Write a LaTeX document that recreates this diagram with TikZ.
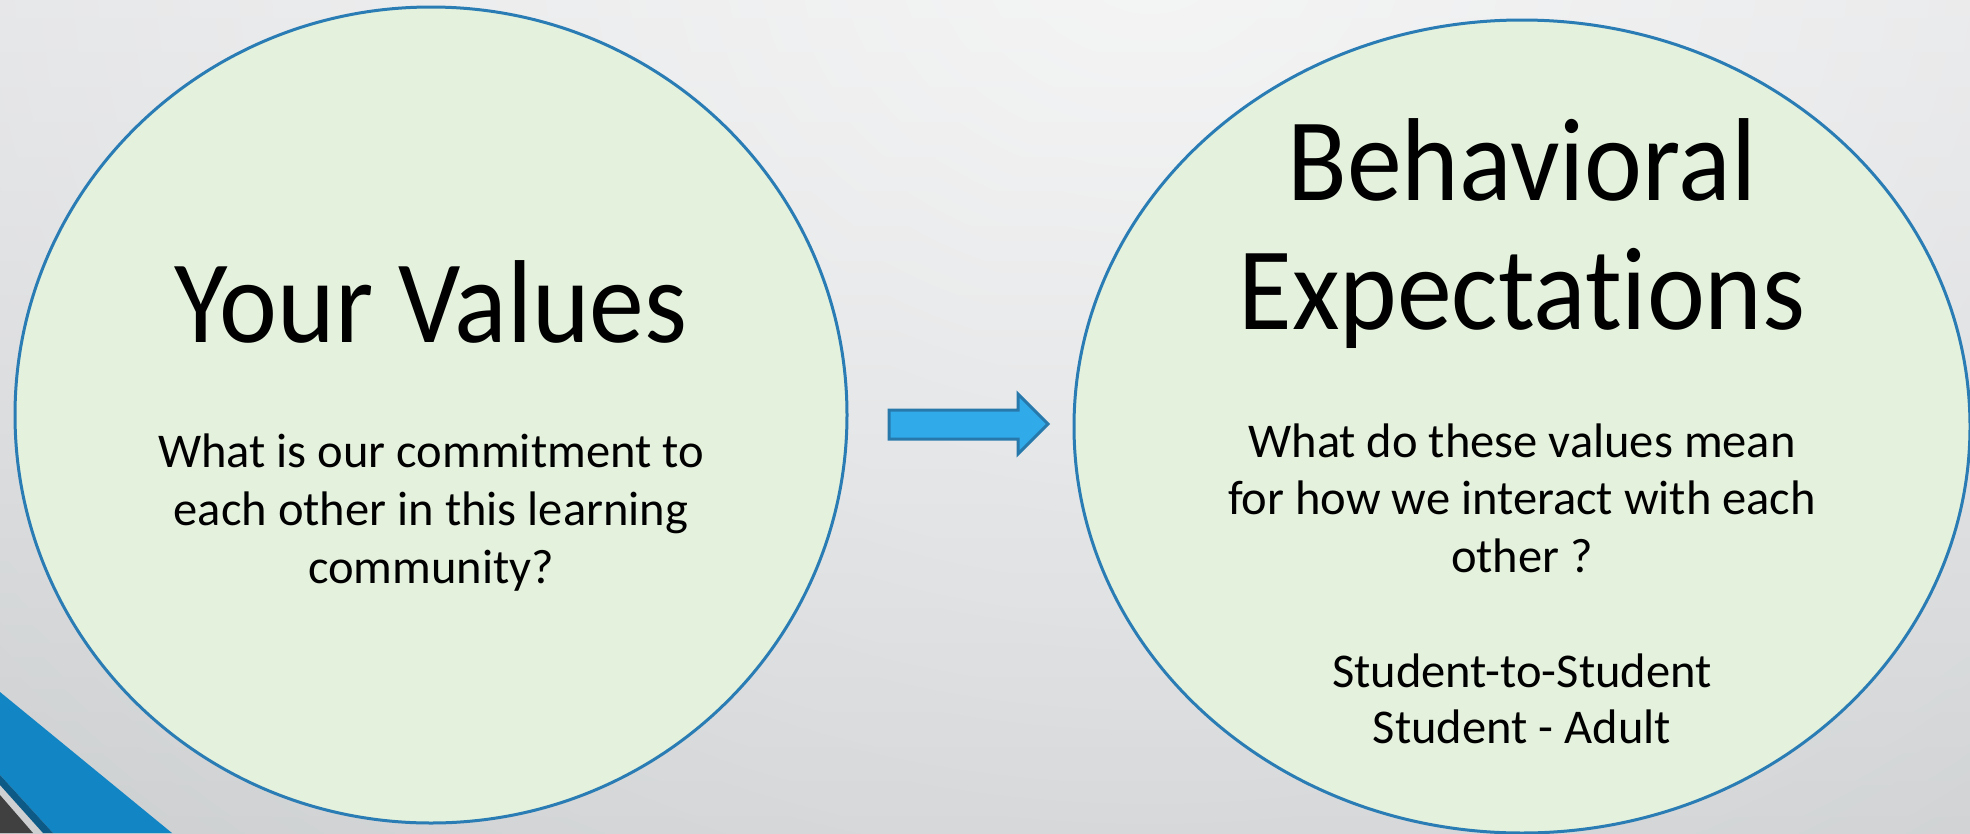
\documentclass[tikz,border=0pt]{standalone}
\usepackage{fontspec}
\setmainfont{Carlito}[Ligatures=NoCommon]
\newfontfamily\titlefont{Carlito}[Ligatures=NoCommon,FakeStretch=0.93]
\usetikzlibrary{shapes.geometric,fadings}
\definecolor{bgtop}{HTML}{DCDDDF}
\definecolor{bgbot}{HTML}{C2C5C7}
\definecolor{ellfill}{HTML}{E4F1DC}
\definecolor{ellline}{HTML}{2A7CB4}
\definecolor{arrfill}{HTML}{30AAE9}
\definecolor{arrline}{HTML}{2779AC}
\definecolor{bandblue}{HTML}{1285C5}
\definecolor{banddark}{HTML}{0E5A87}
\definecolor{bandgray}{HTML}{404040}
\tikzfading[name=glowfade, inner color=transparent!0, outer color=transparent!100]
\tikzset{
  bubble/.style={ellipse, draw=ellline, fill=ellfill, line width=3pt, inner sep=0pt},
  bigtitle/.style={font=\titlefont\fontsize{118}{130}\selectfont, anchor=base, inner sep=0pt},
  smalltxt/.style={font=\fontsize{48.5}{57.5}\selectfont, anchor=base, inner sep=0pt},
  blockarrow/.style={fill=arrfill, draw=arrline, line width=3pt, line join=miter}
}
\begin{document}
\begin{tikzpicture}[x=1pt,y=-1pt]
\useasboundingbox (0,0) rectangle (1970,833);
% background
\shade[top color=bgtop, bottom color=bgbot] (0,0) rectangle (1970,833);
\begin{scope}
\clip (0,0) rectangle (1970,833);
\fill[white, path fading=glowfade, fill opacity=0.7] (1150,-50) ellipse (2100 and 1700);
\end{scope}
% bottom-left band
\fill[bandblue] (0,692) -- (172,833) -- (53,833) -- (0,775) -- cycle;
\fill[banddark] (0,775) -- (53,833) -- (43,833) -- (0,785) -- cycle;
\fill[bandgray] (0,795) -- (33,833) -- (0,833) -- cycle;
% ellipses
\node[bubble, minimum width=832pt, minimum height=816pt] (L) at (431,415) {};
\node[bubble, minimum width=896pt, minimum height=813pt] (R) at (1522,426.5) {};
% left texts
\node[bigtitle] (lt) at (431,342) {Your Values};
\node[smalltxt] (l1) at (431,467) {What is our commitment to};
\node[smalltxt] (l2) at (431,525) {each other in this learning};
\node[smalltxt] (l3) at (431,583) {community?};
% right texts
\node[bigtitle] (rt1) at (1522,200) {Behavioral};
\node[bigtitle] (rt2) at (1522,329) {Expectations};
\node[smalltxt] (r1) at (1522,457) {What do these values mean};
\node[smalltxt] (r2) at (1522,514) {for how we interact with each};
\node[smalltxt] (r3) at (1522,572) {other ?};
\node[smalltxt] (r4) at (1522,687) {Student-to-Student};
\node[smalltxt] (r5) at (1522,743) {Student - Adult};
% block arrow
\coordinate (a0) at (889,410);
\draw[blockarrow] (a0) -- (1018,410) -- (1018,394) -- (1048,424) -- (1018,454) -- (1018,439) -- (889,439) -- cycle;
\end{tikzpicture}
\end{document}
